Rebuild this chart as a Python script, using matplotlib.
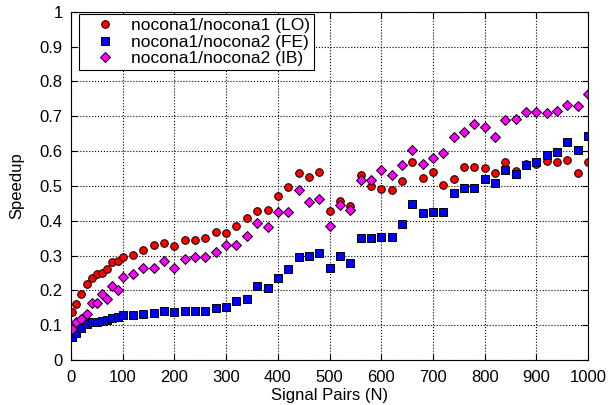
import matplotlib
matplotlib.use("Agg")
import matplotlib.pyplot as plt

plt.rcParams['font.family'] = ['Liberation Sans', 'DejaVu Sans']

# signal pairs N
n_pairs = [1, 10, 20, 30, 40, 50, 60, 70, 80, 90, 100,
           120, 140, 160, 180, 200, 220, 240, 260, 280, 300,
           320, 340, 360, 380, 400, 420, 440, 460, 480, 500,
           520, 540, 560, 580, 600, 620, 640, 660, 680, 700,
           720, 740, 760, 780, 800, 820, 840, 860, 880, 900,
           920, 940, 960, 980, 1000]

speedup_lo = [0.138, 0.162, 0.190, 0.217, 0.236, 0.246, 0.250, 0.262, 0.282, 0.284, 0.296,
              0.302, 0.317, 0.330, 0.335, 0.327, 0.345, 0.345, 0.351, 0.369, 0.366,
              0.385, 0.407, 0.427, 0.430, 0.470, 0.496, 0.536, 0.526, 0.541, 0.428,
              0.457, 0.443, 0.530, 0.501, 0.492, 0.488, 0.513, 0.570, 0.522, 0.539,
              0.503, 0.520, 0.553, 0.555, 0.550, 0.536, 0.568, 0.543, 0.562, 0.563,
              0.571, 0.568, 0.573, 0.536, 0.570]

speedup_fe = [0.067, 0.079, 0.091, 0.103, 0.108, 0.110, 0.112, 0.114, 0.121, 0.125, 0.128,
              0.130, 0.133, 0.136, 0.141, 0.138, 0.142, 0.142, 0.142, 0.150, 0.152,
              0.170, 0.176, 0.213, 0.207, 0.236, 0.262, 0.295, 0.298, 0.308, 0.265,
              0.299, 0.280, 0.350, 0.349, 0.353, 0.353, 0.392, 0.448, 0.422, 0.424,
              0.424, 0.481, 0.494, 0.494, 0.521, 0.507, 0.546, 0.535, 0.560, 0.569,
              0.590, 0.596, 0.625, 0.604, 0.644]

speedup_ib = [0.088, 0.108, 0.117, 0.132, 0.164, 0.163, 0.189, 0.174, 0.212, 0.201, 0.238,
              0.247, 0.265, 0.265, 0.284, 0.265, 0.290, 0.295, 0.295, 0.310, 0.329,
              0.330, 0.355, 0.394, 0.382, 0.424, 0.424, 0.489, 0.455, 0.463, 0.384,
              0.444, 0.431, 0.516, 0.518, 0.546, 0.531, 0.561, 0.602, 0.564, 0.581,
              0.594, 0.639, 0.655, 0.679, 0.668, 0.639, 0.690, 0.693, 0.713, 0.711,
              0.709, 0.714, 0.732, 0.728, 0.764]

fig = plt.figure(figsize=(6.12, 4.05), dpi=100)
ax = fig.add_axes([0.116, 0.111, 0.845, 0.860])

ax.plot(n_pairs, speedup_lo, "o", color="#ff0000", mec="black", mew=0.7, ms=5.5,
        label="nocona1/nocona1 (LO)")
ax.plot(n_pairs, speedup_fe, "s", color="#0000ff", mec="black", mew=0.7, ms=5.5,
        label="nocona1/nocona2 (FE)")
ax.plot(n_pairs, speedup_ib, "D", color="#ff00ff", mec="black", mew=0.7, ms=5,
        label="nocona1/nocona2 (IB)")

ax.set_xlim(0, 1000)
ax.set_ylim(0, 1)
ax.set_xticks(range(0, 1001, 100))
ax.set_yticks([i / 10 for i in range(11)])
ax.set_yticklabels(["0", "0.1", "0.2", "0.3", "0.4", "0.5", "0.6", "0.7", "0.8", "0.9", "1"])
ax.tick_params(direction="in", top=True, right=True, labelsize=12, length=4)
ax.tick_params(axis="x", pad=7)
ax.tick_params(axis="y", pad=6)
ax.grid(True, linestyle=":", color="black", linewidth=0.8)
ax.set_xlabel("Signal Pairs (N)", fontsize=12, labelpad=2)
ax.set_ylabel("Speedup", fontsize=12, labelpad=11)

leg = ax.legend(loc="upper left", bbox_to_anchor=(0.0155, 0.993), fontsize=12.5,
                frameon=True, fancybox=False, edgecolor="black", framealpha=1,
                borderaxespad=0, handlelength=2.5, handletextpad=0.3,
                labelspacing=0.08, borderpad=0.22)
leg.get_frame().set_linewidth(0.8)

fig.savefig("out.png", dpi=100)
